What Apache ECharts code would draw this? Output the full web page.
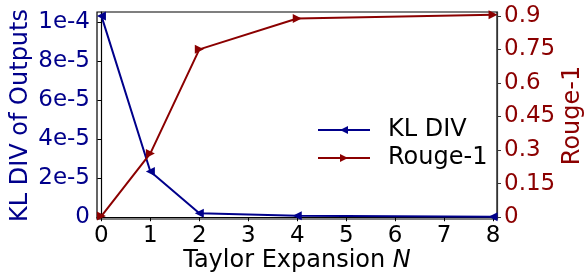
<!DOCTYPE html>
<html>
<head>
<meta charset="utf-8">
<script src="https://cdn.jsdelivr.net/npm/echarts@6/dist/echarts.min.js"></script>
<style>html,body{margin:0;padding:0;background:#fff;}#c{width:586px;height:278px;}</style>
</head>
<body>
<div id="c"></div>
<script>
const nValues = [0, 1, 2, 4, 8];
const klDiv = [1.03e-4, 2.34e-5, 2.0e-6, 0.7e-6, 0.3e-6];
const rouge1 = [0.005, 0.285, 0.75, 0.888, 0.905];
const xTicks = [0, 1, 2, 3, 4, 5, 6, 7, 8];
const leftTickValues = [0, 2e-5, 4e-5, 6e-5, 8e-5, 1e-4];
const leftTickLabels = ['0', '2e-5', '4e-5', '6e-5', '8e-5', '1e-4'];
const rightTickValues = [0, 0.15, 0.3, 0.45, 0.6, 0.75, 0.9];
const rightTickLabels = ['0', '0.15', '0.3', '0.45', '0.6', '0.75', '0.9'];

const BLUE = '#00008B';
const RED = '#8B0000';
const FONT = 'DejaVu Sans';
const TICK_FS = 23;
const TITLE_FS = 24;

function nearestLabel(v, vals, labels) {
  let best = 0, bd = Infinity;
  vals.forEach((t, i) => { const d = Math.abs(t - v); if (d < bd) { bd = d; best = i; } });
  return labels[best];
}

const chart = echarts.init(document.getElementById('c'), null, {renderer: 'canvas'});
chart.setOption({
  animation: false,
  backgroundColor: '#ffffff',
  textStyle: {fontFamily: FONT},
  grid: {left: 97, right: 89, top: 12, bottom: 59, containLabel: false, outerBoundsMode: 'none',
    show: true, borderColor: '#000', borderWidth: 1.2, backgroundColor: 'transparent'},
  legend: {
    orient: 'vertical', left: 312, top: 113, itemWidth: 52, itemHeight: 10, itemGap: 4,
    textStyle: {fontFamily: FONT, fontSize: TITLE_FS, color: '#000', padding: [0, 0, 0, 13]},
    data: ['KL DIV', 'Rouge-1']
  },
  xAxis: {
    type: 'value', min: -0.09, max: 8.08,
    name: 'Taylor Expansion {i|N}', nameLocation: 'middle', nameGap: 30, nameMoveOverlap: false,
    nameTextStyle: {fontFamily: FONT, fontSize: TITLE_FS, color: '#000', rich: {i: {fontStyle: 'italic', fontFamily: FONT, fontSize: TITLE_FS, color: '#000'}}},
    axisLine: {show: true, lineStyle: {color: '#000', width: 1.2}},
    axisTick: {show: true, length: 4, inside: false, lineStyle: {color: '#000'}, customValues: xTicks},
    axisLabel: {fontFamily: FONT, fontSize: TICK_FS, color: '#000', margin: 6, customValues: xTicks, formatter: v => String(Math.round(v))},
    splitLine: {show: false}
  },
  yAxis: [{
    type: 'value', position: 'left', min: -9e-7, max: 1.05e-4,
    name: 'KL DIV of Outputs', nameLocation: 'middle', nameGap: 64, nameMoveOverlap: false,
    nameTextStyle: {fontFamily: FONT, fontSize: TITLE_FS, color: BLUE},
    axisLine: {show: true, lineStyle: {color: '#000', width: 1.2}},
    axisTick: {show: true, length: 4, lineStyle: {color: '#000'}, customValues: leftTickValues},
    axisLabel: {fontFamily: FONT, fontSize: TICK_FS, color: BLUE, margin: 7, customValues: leftTickValues,
      formatter: v => nearestLabel(v, leftTickValues, leftTickLabels)},
    splitLine: {show: false}
  }, {
    type: 'value', position: 'right', min: -0.008, max: 0.917,
    name: 'Rouge-1', nameLocation: 'middle', nameGap: 64, nameRotate: 90, nameMoveOverlap: false,
    nameTextStyle: {fontFamily: FONT, fontSize: TITLE_FS, color: RED},
    axisLine: {show: true, lineStyle: {color: '#333', width: 1.2}},
    axisTick: {show: true, length: 4, lineStyle: {color: '#333'}, customValues: rightTickValues},
    axisLabel: {fontFamily: FONT, fontSize: TICK_FS, color: RED, margin: 7, customValues: rightTickValues,
      formatter: v => nearestLabel(v, rightTickValues, rightTickLabels)},
    splitLine: {show: false}
  }],
  series: [{
    name: 'KL DIV', type: 'line', yAxisIndex: 0,
    data: nValues.map((n, i) => [n, klDiv[i]]),
    symbol: 'path://M10,0 L0,5 L10,10 Z', symbolSize: [9, 9], symbolKeepAspect: true,
    lineStyle: {color: BLUE, width: 2}, itemStyle: {color: BLUE}, z: 2
  }, {
    name: 'Rouge-1', type: 'line', yAxisIndex: 1,
    data: nValues.map((n, i) => [n, rouge1[i]]),
    symbol: 'path://M0,0 L10,5 L0,10 Z', symbolSize: [9, 9], symbolKeepAspect: true,
    lineStyle: {color: RED, width: 2}, itemStyle: {color: RED}, z: 3
  }]
});
</script>
</body>
</html>
